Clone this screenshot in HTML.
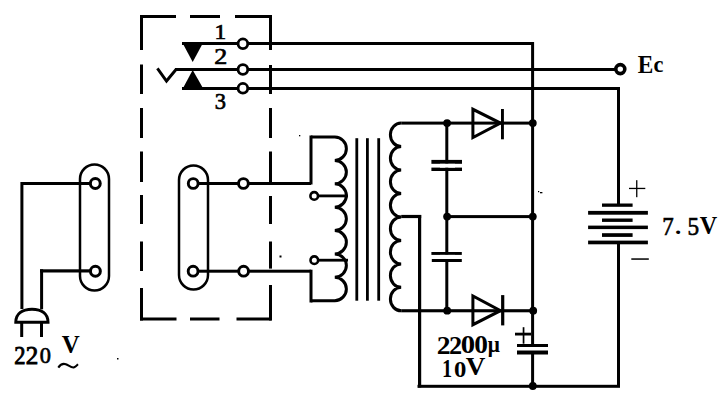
<!DOCTYPE html>
<html><head><meta charset="utf-8"><style>
html,body{margin:0;padding:0;background:#fff;width:727px;height:408px;overflow:hidden}
svg{display:block}
text{font-family:"Liberation Serif",serif;fill:#000}
</style></head><body>
<svg width="727" height="408" viewBox="0 0 727 408" stroke="#000" fill="none">
<rect x="0" y="0" width="727" height="408" fill="#fff" stroke="none"/>
<rect x="140" y="15" width="36" height="3" fill="#000" stroke="none"/>
<rect x="190" y="15" width="30" height="3" fill="#000" stroke="none"/>
<rect x="235" y="15" width="36.5" height="3" fill="#000" stroke="none"/>
<rect x="140" y="317.5" width="36.5" height="3" fill="#000" stroke="none"/>
<rect x="190" y="317.5" width="29.5" height="3" fill="#000" stroke="none"/>
<rect x="236.5" y="317.5" width="35.0" height="3" fill="#000" stroke="none"/>
<rect x="140" y="15" width="3" height="35" fill="#000" stroke="none"/>
<rect x="140" y="64.5" width="3" height="29.5" fill="#000" stroke="none"/>
<rect x="140" y="108" width="3" height="30" fill="#000" stroke="none"/>
<rect x="140" y="151.5" width="3" height="30.5" fill="#000" stroke="none"/>
<rect x="140" y="195" width="3" height="29" fill="#000" stroke="none"/>
<rect x="140" y="241.5" width="3" height="29.5" fill="#000" stroke="none"/>
<rect x="140" y="288" width="3" height="32.5" fill="#000" stroke="none"/>
<rect x="269" y="15" width="3" height="35" fill="#000" stroke="none"/>
<rect x="269" y="65" width="3" height="29" fill="#000" stroke="none"/>
<rect x="269" y="108" width="3" height="30" fill="#000" stroke="none"/>
<rect x="269" y="151.5" width="3" height="30.5" fill="#000" stroke="none"/>
<rect x="269" y="196" width="3" height="28" fill="#000" stroke="none"/>
<rect x="269" y="241.5" width="3" height="27.100000000000023" fill="#000" stroke="none"/>
<rect x="269" y="285" width="3" height="35.5" fill="#000" stroke="none"/>
<polygon points="182,42 203.5,42 192.7,62" fill="#000" stroke="none"/>
<polygon points="192.7,70 182,90 204,90" fill="#000" stroke="none"/>
<rect x="182" y="42" width="352" height="3" fill="#000" stroke="none"/>
<rect x="175" y="68" width="446" height="3" fill="#000" stroke="none"/>
<rect x="182" y="87" width="438" height="3" fill="#000" stroke="none"/>
<polyline points="157.4,68.3 166.5,81 176,69.5" fill="none" stroke-width="2.9" stroke-linejoin="miter"/>
<circle cx="242.9" cy="43.8" r="4.85" fill="#fff" stroke-width="2.8"/>
<circle cx="242.9" cy="69.5" r="4.85" fill="#fff" stroke-width="2.8"/>
<circle cx="242.9" cy="88.3" r="4.85" fill="#fff" stroke-width="2.8"/>
<circle cx="620.3" cy="69.1" r="4.5" fill="#fff" stroke-width="3.6"/>
<rect x="531.1" y="42" width="3" height="345" fill="#000" stroke="none"/>
<rect x="617" y="87" width="3" height="118" fill="#000" stroke="none"/>
<rect x="617" y="241" width="3" height="146" fill="#000" stroke="none"/>
<rect x="418" y="215" width="3.2" height="172.5" fill="#000" stroke="none"/>
<rect x="417.5" y="384.8" width="202.5" height="3" fill="#000" stroke="none"/>
<rect x="602" y="203.5" width="30.6" height="3.3" fill="#000" stroke="none"/>
<rect x="588.1" y="210.9" width="59.8" height="3.8" fill="#000" stroke="none"/>
<rect x="602" y="218.5" width="30.6" height="3.4" fill="#000" stroke="none"/>
<rect x="588.1" y="225.6" width="59.8" height="3.5" fill="#000" stroke="none"/>
<rect x="602" y="233.2" width="30.6" height="3.7" fill="#000" stroke="none"/>
<rect x="588.1" y="240.6" width="59.8" height="3.7" fill="#000" stroke="none"/>
<rect x="629" y="187.8" width="16.3" height="1.3" fill="#000" stroke="none"/>
<rect x="636.1" y="180.2" width="1.3" height="17" fill="#000" stroke="none"/>
<rect x="631.3" y="258.3" width="17.5" height="1.5" fill="#000" stroke="none"/>
<path d="M311,137 L334.8,137 A12,11.7 0 0 1 334.8,160.38571428571427 A12,11.7 0 0 1 334.8,183.77142857142854 A12,11.7 0 0 1 334.8,207.15714285714282 A12,11.7 0 0 1 334.8,230.5428571428571 A12,11.7 0 0 1 334.8,253.92857142857136 A12,11.7 0 0 1 334.8,277.31428571428563 A12,11.7 0 0 1 334.8,300.69999999999993 L311,300.69999999999993" fill="none" stroke-width="3"/>
<rect x="309.5" y="135.5" width="3" height="49" fill="#000" stroke="none"/>
<rect x="243" y="182" width="68" height="3" fill="#000" stroke="none"/>
<rect x="309.5" y="269.7" width="3" height="32.8" fill="#000" stroke="none"/>
<rect x="243" y="269.7" width="68" height="3" fill="#000" stroke="none"/>
<circle cx="314.2" cy="195.9" r="3.8" fill="#fff" stroke-width="2.6"/>
<rect x="317" y="194.5" width="31" height="2.8" fill="#000" stroke="none"/>
<circle cx="314.3" cy="260.2" r="3.8" fill="#fff" stroke-width="2.6"/>
<rect x="317" y="258.8" width="31" height="2.8" fill="#000" stroke="none"/>
<rect x="355.40000000000003" y="138.2" width="2.8" height="162.5" fill="#000" stroke="none"/>
<rect x="366.0" y="138.2" width="2.8" height="162.5" fill="#000" stroke="none"/>
<rect x="377.3" y="138.2" width="2.8" height="162.5" fill="#000" stroke="none"/>
<path d="M401.2,123.1 A10.8,11.72 0 0 0 401.2,146.5625 A10.8,11.72 0 0 0 401.2,170.025 A10.8,11.72 0 0 0 401.2,193.4875 A10.8,11.72 0 0 0 401.2,216.95000000000002 A10.8,11.72 0 0 0 401.2,240.41250000000002 A10.8,11.72 0 0 0 401.2,263.875 A10.8,11.72 0 0 0 401.2,287.3375 A10.8,11.72 0 0 0 401.2,310.79999999999995" fill="none" stroke-width="3"/>
<rect x="401.2" y="121.6" width="132" height="3" fill="#000" stroke="none"/>
<rect x="401.2" y="214.9" width="20" height="3.2" fill="#000" stroke="none"/>
<rect x="445.5" y="215.1" width="88" height="3" fill="#000" stroke="none"/>
<rect x="401.2" y="309.2" width="132" height="3.1" fill="#000" stroke="none"/>
<rect x="445.3" y="122" width="3" height="189" fill="#000" stroke="none"/>
<rect x="431.4" y="159.9" width="30.6" height="3.9" fill="#000" stroke="none"/>
<rect x="431.4" y="167.6" width="30.6" height="3.4" fill="#000" stroke="none"/>
<rect x="431.4" y="252" width="30.4" height="2.9" fill="#000" stroke="none"/>
<rect x="431.8" y="259" width="30" height="3" fill="#000" stroke="none"/>
<rect x="440" y="163.8" width="15" height="3.8" fill="#fff" stroke="none"/>
<rect x="440" y="254.9" width="15" height="4.1" fill="#fff" stroke="none"/>
<circle cx="447.1" cy="123.1" r="3.9" fill="#000" stroke="none"/>
<circle cx="532.8" cy="123.1" r="3.9" fill="#000" stroke="none"/>
<circle cx="447.1" cy="216.6" r="3.9" fill="#000" stroke="none"/>
<circle cx="532.8" cy="216.6" r="3.9" fill="#000" stroke="none"/>
<circle cx="447.2" cy="310.7" r="3.9" fill="#000" stroke="none"/>
<circle cx="533.2" cy="310.7" r="3.9" fill="#000" stroke="none"/>
<circle cx="532.8" cy="386" r="3.9" fill="#000" stroke="none"/>
<rect x="472" y="108" width="31" height="32" fill="#fff" stroke="none"/>
<polygon points="472.9,109.3 472.9,137.6 500.5,123.1" fill="none" stroke-width="3" stroke-linejoin="miter"/>
<rect x="501" y="109" width="2.9" height="30.3" fill="#000" stroke="none"/>
<rect x="472" y="121.6" width="32" height="3" fill="#000" stroke="none"/>
<rect x="472" y="294" width="32" height="32" fill="#fff" stroke="none"/>
<polygon points="472.9,295.9 472.9,324.7 500.5,310.7" fill="none" stroke-width="3" stroke-linejoin="miter"/>
<rect x="501.1" y="295.1" width="3.2" height="30.3" fill="#000" stroke="none"/>
<rect x="472" y="309.2" width="32" height="3.1" fill="#000" stroke="none"/>
<rect x="515" y="347" width="36" height="4" fill="#fff" stroke="none"/>
<rect x="517" y="344" width="31" height="3" fill="#000" stroke="none"/>
<rect x="517" y="350.5" width="31" height="4" fill="#000" stroke="none"/>
<rect x="515" y="332.7" width="16" height="2.8" fill="#000" stroke="none"/>
<rect x="522.7" y="327.2" width="1.7" height="16.5" fill="#000" stroke="none"/>
<rect x="80" y="164.5" width="29" height="126" rx="14.5" ry="14.5" fill="none" stroke-width="2.5"/>
<rect x="21" y="182" width="75" height="3" fill="#000" stroke="none"/>
<rect x="20.4" y="182" width="3" height="127" fill="#000" stroke="none"/>
<rect x="40" y="269.3" width="55" height="3.2" fill="#000" stroke="none"/>
<rect x="40.1" y="269.3" width="3" height="40" fill="#000" stroke="none"/>
<circle cx="95.3" cy="183.5" r="4.95" fill="#fff" stroke-width="3"/>
<circle cx="95.4" cy="271.2" r="4.95" fill="#fff" stroke-width="3"/>
<path d="M15.8,322.3 L48,322.3 C48,313.5 41.5,309.2 32,309.2 C22.5,309.2 15.8,313.5 15.8,322.3 Z" fill="none" stroke-width="3"/>
<rect x="20.2" y="322" width="3" height="15" fill="#000" stroke="none"/>
<rect x="40" y="322" width="3" height="15" fill="#000" stroke="none"/>
<rect x="179" y="165.5" width="29" height="124" rx="14.5" ry="14.5" fill="none" stroke-width="2.5"/>
<rect x="193" y="182" width="50" height="3" fill="#000" stroke="none"/>
<rect x="193" y="269.7" width="50" height="3" fill="#000" stroke="none"/>
<circle cx="193.2" cy="183.5" r="4.9" fill="#fff" stroke-width="2.9"/>
<circle cx="193.1" cy="271.2" r="4.9" fill="#fff" stroke-width="2.9"/>
<circle cx="243.4" cy="183.5" r="4.9" fill="#fff" stroke-width="2.9"/>
<circle cx="243.6" cy="271.2" r="4.9" fill="#fff" stroke-width="2.9"/>
<text transform="translate(214.49,38.60) scale(1.104,1)" font-size="21.22" font-weight="normal" stroke="#000" stroke-width="0.7">1</text>
<text transform="translate(214.33,64.40) scale(1.136,1)" font-size="22.88" font-weight="normal" stroke="#000" stroke-width="0.7">2</text>
<text transform="translate(214.78,109.06) scale(0.940,1)" font-size="23.88" font-weight="normal" stroke="#000" stroke-width="0.7">3</text>
<text transform="translate(637.75,72.70) scale(0.926,1)" font-size="25.19" font-weight="bold" stroke="none">E</text>
<text transform="translate(653.42,72.48) scale(1.002,1)" font-size="22.29" font-weight="bold" stroke="none">c</text>
<text transform="translate(662.31,235.02) scale(0.951,1)" font-size="24.15" font-weight="normal" stroke="#000" stroke-width="0.6">7</text>
<text transform="translate(674.88,234.17) scale(1.143,1)" font-size="21.88" font-weight="bold" stroke="none">.</text>
<text transform="translate(687.40,235.25) scale(0.949,1)" font-size="24.51" font-weight="normal" stroke="#000" stroke-width="0.6">5</text>
<text transform="translate(699.86,233.51) scale(0.939,1)" font-size="25.71" font-weight="bold" stroke="none">V</text>
<text transform="translate(436.79,353.70) scale(1.095,1)" font-size="25.30" font-weight="bold" stroke="none">2</text>
<text transform="translate(448.95,353.70) scale(1.038,1)" font-size="25.30" font-weight="bold" stroke="none">2</text>
<text transform="translate(460.85,353.45) scale(1.164,1)" font-size="24.74" font-weight="bold" stroke="none">0</text>
<text transform="translate(474.20,353.45) scale(1.107,1)" font-size="24.74" font-weight="bold" stroke="none">0</text>
<text transform="translate(487.68,351.90) scale(0.951,1)" font-size="22.39" font-weight="bold" stroke="none">μ</text>
<text transform="translate(441.98,377.30) scale(0.825,1)" font-size="24.58" font-weight="bold" stroke="none">1</text>
<text transform="translate(454.11,376.77) scale(1.058,1)" font-size="23.41" font-weight="bold" stroke="none">0</text>
<text transform="translate(465.83,375.22) scale(1.081,1)" font-size="25.11" font-weight="bold" stroke="none">V</text>
<text transform="translate(14.29,363.50) scale(0.917,1)" font-size="24.55" font-weight="normal" stroke="#000" stroke-width="0.9">2</text>
<text transform="translate(25.68,363.50) scale(1.019,1)" font-size="24.55" font-weight="normal" stroke="#000" stroke-width="0.9">2</text>
<text transform="translate(39.70,363.26) scale(0.933,1)" font-size="24.00" font-weight="normal" stroke="#000" stroke-width="0.7">0</text>
<text transform="translate(61.65,352.81) scale(0.961,1)" font-size="25.86" font-weight="bold" stroke="none">V</text>
<path d="M58.3,367.6 C60.3,364.6 62.8,363.2 65.8,364.2 C68.8,365.4 71,367.8 73.8,367.4 C75.8,367 76.8,365.4 78,364.3" fill="none" stroke-width="2.1"/>
<rect x="299" y="135" width="1.3" height="1.3" fill="#000" stroke="none"/>
<rect x="538" y="191" width="1.2" height="1.2" fill="#000" stroke="none"/>
<rect x="540" y="192" width="2.4" height="1.3" fill="#000" stroke="none"/>
<rect x="279.5" y="255.5" width="2" height="2" fill="#000" stroke="none"/>
<rect x="117" y="358" width="1.5" height="1.5" fill="#000" stroke="none"/>
</svg>
</body></html>
